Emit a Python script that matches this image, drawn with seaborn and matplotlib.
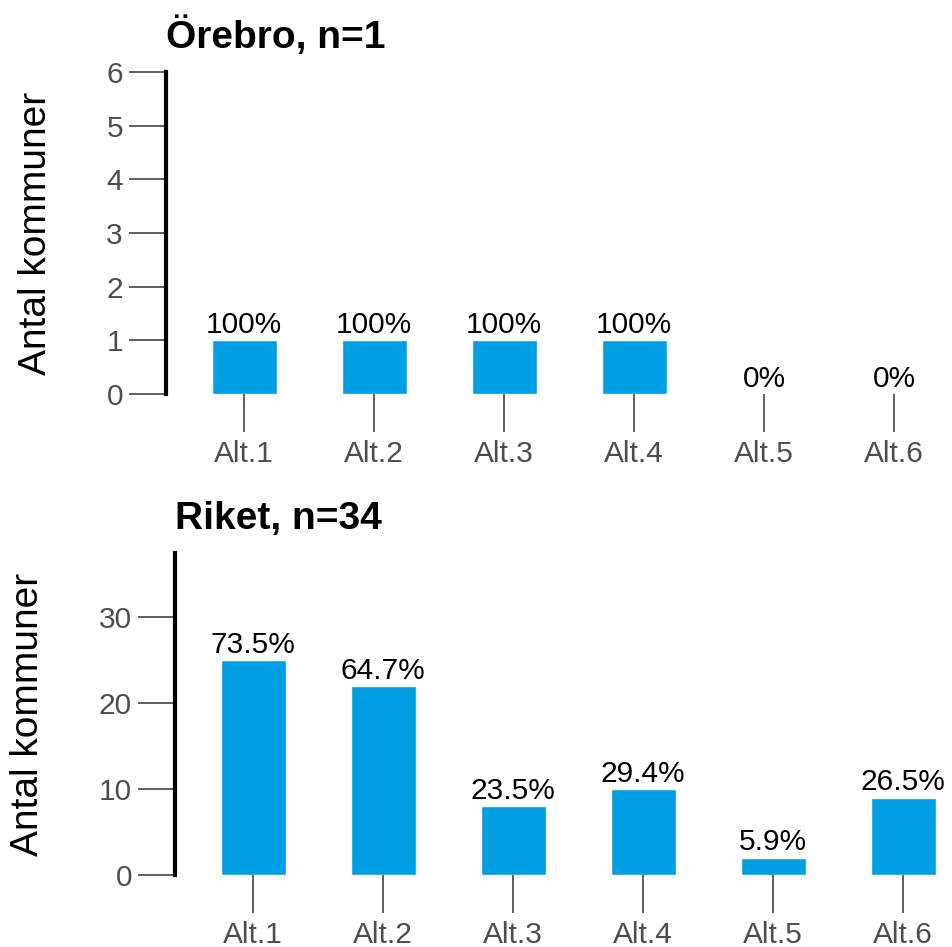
import matplotlib
matplotlib.use("Agg")
import matplotlib.pyplot as plt
import seaborn as sns
import pandas as pd

# Datos del gráfico
alternativ = ["Alt.1", "Alt.2", "Alt.3", "Alt.4", "Alt.5", "Alt.6"]
orebro_antal = [1, 1, 1, 1, 0, 0]
orebro_n = 1
riket_antal = [25, 22, 8, 10, 2, 9]
riket_n = 34

sns.set_style("white")
plt.rcParams["font.family"] = ["Liberation Sans", "DejaVu Sans"]

BAR_COLOR = "#009FE3"
TICK_GREY = "#4D4D4D"

fig = plt.figure(figsize=(9.52, 9.47), dpi=100)
ax_top = fig.add_axes([166 / 952, 1 - 394 / 947, 786.5 / 952, 322 / 947])
ax_bot = fig.add_axes([175 / 952, 1 - 875 / 947, 786.5 / 952, 322 / 947])


def rita_panel(ax, antal, n, titel, ymax, yticks):
    df = pd.DataFrame({"alt": alternativ, "antal": antal})
    sns.barplot(data=df, x="alt", y="antal", color=BAR_COLOR, width=0.5,
                saturation=1, ax=ax)
    # etiquetas de porcentaje
    pct = []
    for v in antal:
        p = 100 * v / n
        pct.append(f"{p:.0f}%" if p in (0, 100) else f"{p:.1f}%")
    ax.bar_label(ax.containers[0], labels=pct, padding=1, fontsize=21.5,
                 color="black")
    ax.set_xlim(-0.6, 5.45)
    ax.set_ylim(0, ymax)
    ax.set_yticks(yticks)
    ax.set_xlabel("")
    ax.set_ylabel("Antal kommuner", fontsize=28, color="black", labelpad=38)
    ax.set_title(titel, loc="left", fontsize=28, fontweight="bold", pad=17,
                 color="black")
    for s in ["top", "right", "bottom"]:
        ax.spines[s].set_visible(False)
    ax.spines["left"].set_linewidth(3)
    ax.spines["left"].set_color("black")
    ax.tick_params(axis="both", direction="out", length=27, width=1.1,
                   color="#333333", labelcolor=TICK_GREY, labelsize=21.5,
                   bottom=True, left=True)
    ax.tick_params(axis="y", pad=4)
    ax.tick_params(axis="x", pad=6)


rita_panel(ax_top, orebro_antal, orebro_n, f"Örebro, n={orebro_n}", 6, range(0, 7))
rita_panel(ax_bot, riket_antal, riket_n, f"Riket, n={riket_n}", 37.5, [0, 10, 20, 30])

fig.savefig("out.png", dpi=100)
